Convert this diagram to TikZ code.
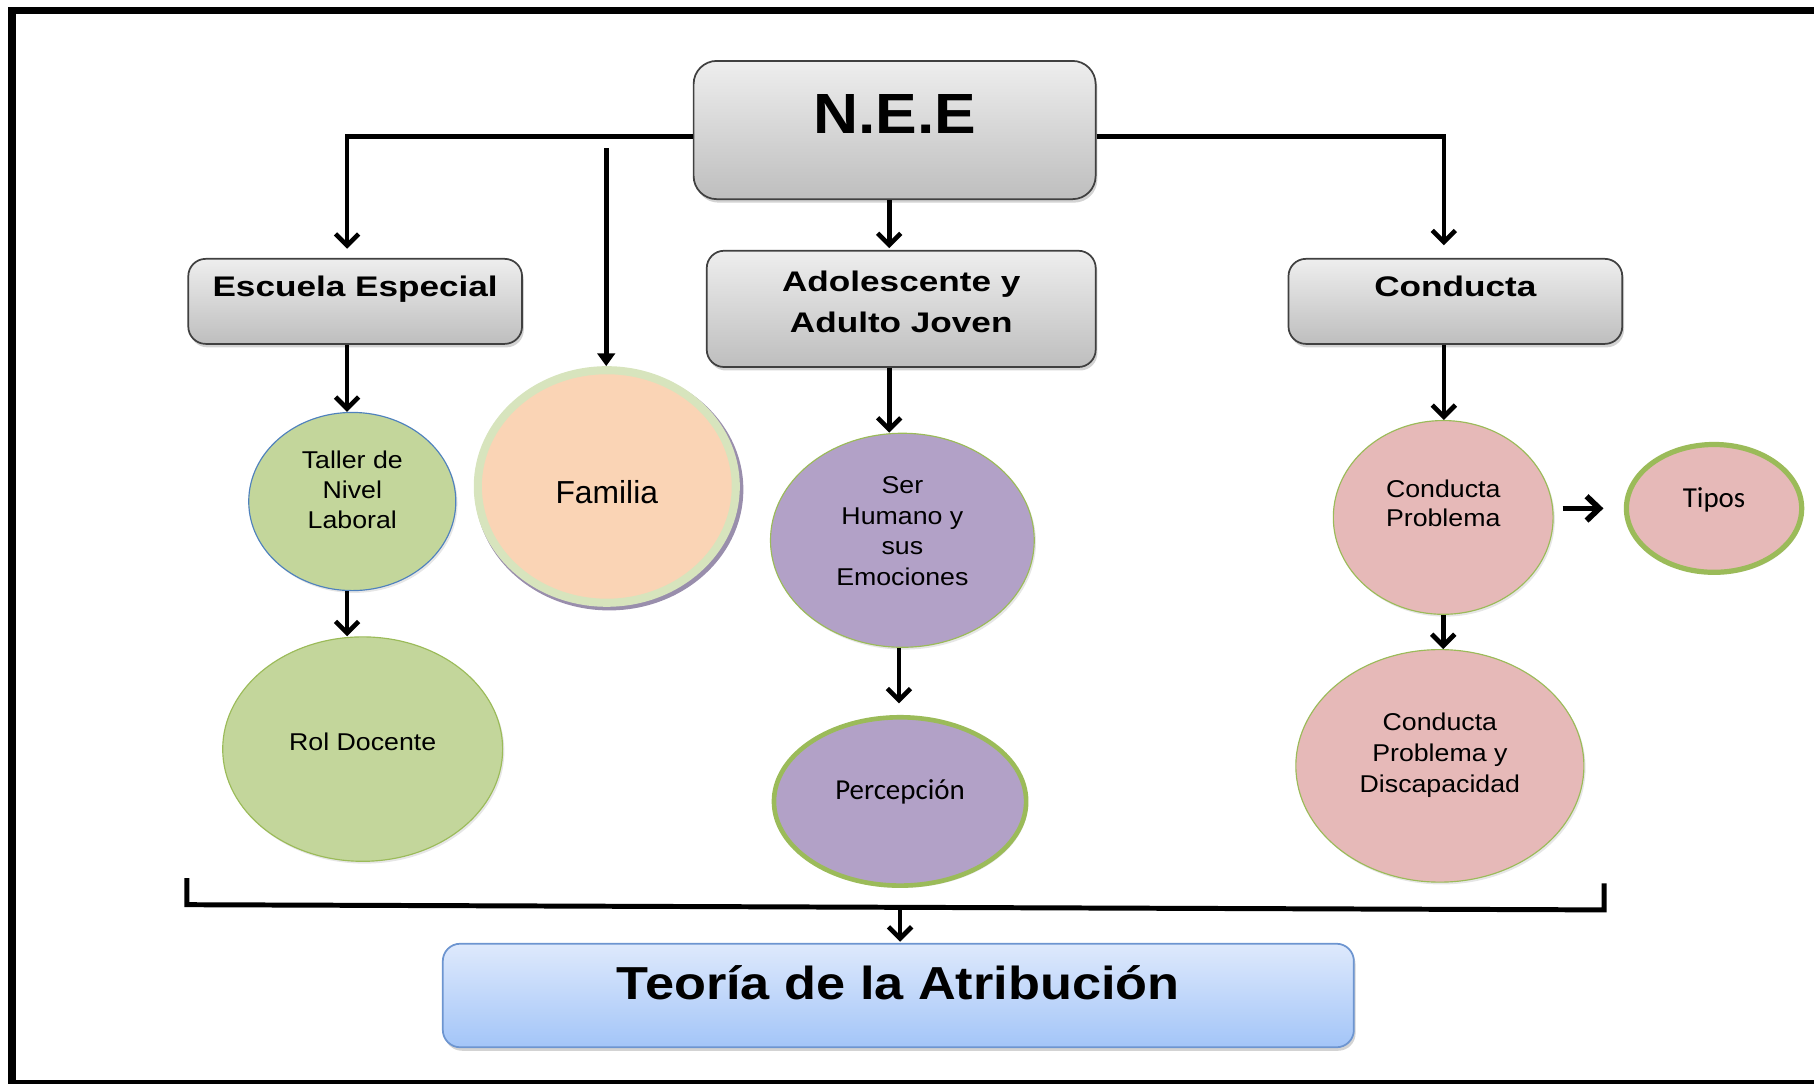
\documentclass[tikz,border=0pt]{standalone}
\usepackage{fontspec}
\setmainfont{Liberation Sans}
\newfontfamily\calibri{Carlito}
\usetikzlibrary{positioning,shapes.geometric,arrows.meta,shadows}
\definecolor{boxtop}{HTML}{EEEEEE}
\definecolor{boxbot}{HTML}{BEBEBE}
\definecolor{boxline}{HTML}{404040}
\definecolor{greenfill}{HTML}{C3D69B}
\definecolor{greenline}{HTML}{9BBB59}
\definecolor{blueline}{HTML}{4F81BD}
\definecolor{peach}{HTML}{FAD4B5}
\definecolor{famline}{HTML}{D7E4BD}
\definecolor{famshadow}{HTML}{8E82A3}
\definecolor{purplefill}{HTML}{B2A1C7}
\definecolor{pinkfill}{HTML}{E6B9B8}
\definecolor{bluetop}{HTML}{DEE9FC}
\definecolor{bluebot}{HTML}{A3C5F8}
\definecolor{blueedge}{HTML}{6D95D0}

\begin{document}
\begin{tikzpicture}[x=1pt,y=-1pt,
	greybox/.style = {draw=boxline, line width=1.5pt, rounded corners=15pt, top color=boxtop, bottom color=boxbot, inner ysep=0pt, align=center, drop shadow={shadow xshift=1.5pt, shadow yshift=-3pt, opacity=0.35}},
	headtext/.style = {font=\fontsize{24.5}{35}\selectfont\bfseries\addfontfeature{FakeStretch=1.24}},
	bluebox/.style = {draw=blueedge, line width=1.5pt, rounded corners=15pt, top color=bluetop, bottom color=bluebot, inner ysep=0pt, align=center, drop shadow={shadow xshift=1.5pt, shadow yshift=-3pt, opacity=0.35}},
	bubble/.style = {ellipse, inner sep=0pt, align=center, text height=15pt, font=\fontsize{21}{26.5}\selectfont\addfontfeature{FakeStretch=1.1}, drop shadow={shadow xshift=1.5pt, shadow yshift=-2pt, opacity=0.2}},
	greenbubble/.style = {bubble, draw=greenline, line width=1pt, fill=greenfill},
	purplebubble/.style = {bubble, draw=greenline, line width=1pt, fill=purplefill},
	pinkbubble/.style = {bubble, draw=greenline, line width=1pt, fill=pinkfill},
	calibritext/.style = {font=\calibri\fontsize{25}{30}\selectfont, text height=16.1pt},
	conn/.style = {line width=4pt, -{Straight Barb[length=10pt,width=20pt]}},
	bigconn/.style = {line width=5pt, -{Straight Barb[length=11pt,width=21pt]}},
	famconn/.style = {line width=4.5pt, -{Triangle[length=11pt,width=15pt]}},
	brk/.style = {line width=4.3pt, line join=miter},
]
\useasboundingbox (0,0) rectangle (1568,937);
\draw[line width=6.5pt, line join=miter] (1568,9)--(10.5,9)--(10.5,937);
\draw[line width=3.5pt] (7,935.25)--(1568,935.25);

\node[greybox, rounded corners=20pt, minimum width=347.5pt, text height=62.35pt, text depth=57.15pt, font=\fontsize{49}{50}\selectfont\bfseries\addfontfeature{FakeStretch=1.1}] (nee) at (773.3,112.4) {N.E.E};
\node[greybox, headtext, minimum width=288.5pt, text height=32.65pt, text depth=40.85pt] (escuela) at (307,260.5) {Escuela Especial};
\node[greybox, headtext, minimum width=336.2pt, text height=70.25pt, text depth=30.25pt] (adolescente) [below=43.1pt of nee, xshift=5.7pt] {Adolescente y\\Adulto Joven};
\node[greybox, headtext, minimum width=288.5pt, text height=32.65pt, text depth=40.85pt] (conducta) at (1258,260.5) {Conducta};

\node[greenbubble, draw=blueline, minimum width=179pt, minimum height=154pt, text height=47pt, text depth=0pt, font=\fontsize{21}{26}\selectfont\addfontfeature{FakeStretch=1.1}] (taller) [below=58pt of escuela, xshift=-2.5pt] {Taller de\\Nivel\\Laboral};
\node[greenbubble, minimum width=242pt, minimum height=194pt, text depth=13pt] (rol) [below=39pt of taller, xshift=9pt] {Rol Docente};
\node[ellipse, draw=famline, line width=7pt, fill=peach, inner sep=0pt, minimum width=223pt, minimum height=201pt, text height=28.7pt, text depth=0pt, font=\fontsize{27.5}{30}\selectfont, drop shadow={shadow scale=1.04, shadow xshift=2pt, shadow yshift=-2.5pt, fill=famshadow, opacity=0.9}] (familia) at (524.5,420.5) {Familia};
\node[purplebubble, minimum width=228pt, minimum height=185pt, text height=77.9pt, text depth=0pt] (ser) [below=56pt of adolescente, xshift=1pt] {Ser\\Humano y\\sus\\Emociones};
\node[purplebubble, calibritext, line width=4pt, minimum width=218pt, minimum height=145.5pt, text depth=18.6pt] (percepcion) [below=58pt of ser, xshift=-2pt] {Percepción};
\node[pinkbubble, minimum width=190pt, minimum height=167.5pt, text height=16.2pt, text depth=0pt, font=\fontsize{21}{25.2}\selectfont\addfontfeature{FakeStretch=1.1}] (problema) [below=65pt of conducta, xshift=-10.5pt] {Conducta\\Problema};
\node[pinkbubble, calibritext, line width=4.5pt, minimum width=151.5pt, minimum height=110.5pt, text depth=17.6pt] (tipos) [right=60.6pt of problema, yshift=7.8pt] {Tipos};
\node[pinkbubble, minimum width=249pt, minimum height=201pt, text height=46.4pt, text depth=0pt, font=\fontsize{21}{27.1}\selectfont\addfontfeature{FakeStretch=1.1}] (discapacidad) [below=29.5pt of problema, xshift=-2.9pt] {Conducta\\Problema y\\Discapacidad};

\node[bluebox, minimum width=787.5pt, text height=48.55pt, text depth=40.95pt, font=\fontsize{40}{44}\selectfont\bfseries\addfontfeature{FakeStretch=1.13}] (teoria) at (776.5,860.5) {Teoría de la Atribución};

\coordinate (famtop) at (524,128);
\coordinate (brkla) at (161.5,759);
\coordinate (brklb) at (161.5,782);
\coordinate (brkrb) at (1386.5,786.5);
\coordinate (brkra) at (1386.5,763.5);
\coordinate (brkm) at (778,784.3);

\draw[conn]([yshift=-5.6pt]nee.west) -| ([xshift=-7pt,yshift=8pt]escuela.north);
\draw[famconn](famtop)--(famtop |- familia.north);
\draw[conn]([xshift=-4.7pt]nee.south)--([xshift=-10.4pt,yshift=1.5pt]adolescente.north);
\draw[conn]([yshift=-5.6pt]nee.east) -| ([xshift=-10pt,yshift=11pt]conducta.north);
\draw[conn]([xshift=-7pt]escuela.south)--([xshift=-4.5pt]taller.north);
\draw[conn]([xshift=-4.5pt]taller.south)--([xshift=-13.5pt]rol.north);
\draw[conn]([xshift=-10.4pt]adolescente.south)--([xshift=-11.4pt]ser.north);
\draw[conn]([xshift=-3pt]ser.south)--([xshift=-1pt,yshift=10pt]percepcion.north);
\draw[conn]([xshift=-10pt]conducta.south)--([xshift=0.5pt]problema.north);
\draw[conn](problema.south)--([xshift=2.9pt]discapacidad.north);
\draw[bigconn, shorten <=7.6pt, shorten >=17.6pt](problema.east |- tipos.west)--(tipos.west);
\draw[brk](brkla)--(brklb)--(brkrb)--(brkra);
\draw[conn, shorten >=1pt](brkm)--(brkm |- teoria.north);

\end{tikzpicture}
\end{document}
